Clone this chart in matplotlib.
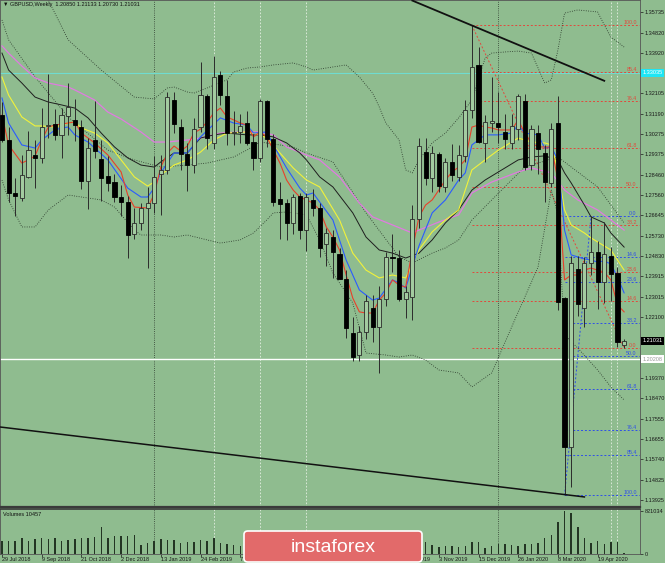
import numpy as np
import matplotlib
matplotlib.use('Agg')
import matplotlib.pyplot as plt
from matplotlib.patches import FancyBboxPatch

plt.rcParams['font.family'] = ['Liberation Sans', 'DejaVu Sans']

BG = '#8FBC8F'
W, H = 665, 563

# GBPUSD weekly candles, 29 Jul 2018 .. 17 May 2020
opens = [1.3114, 1.3002, 1.2765, 1.2744, 1.2838, 1.2935, 1.2920, 1.3065, 1.3073, 1.3024,
         1.3110, 1.3090, 1.3060, 1.2820, 1.3000, 1.2915, 1.2840, 1.2815, 1.2745, 1.2725,
         1.2580, 1.2630, 1.2700, 1.2718, 1.2848, 1.2870, 1.3180, 1.3060, 1.2940, 1.2890,
         1.3060, 1.3200, 1.2990, 1.3295, 1.3200, 1.3035, 1.3040, 1.3080, 1.2995, 1.2920,
         1.3175, 1.3005, 1.2740, 1.2720, 1.2630, 1.2750, 1.2600, 1.2735, 1.2700, 1.2535,
         1.2570, 1.2490, 1.2380, 1.2140, 1.2040, 1.2145, 1.2250, 1.2165, 1.2290, 1.2480,
         1.2475, 1.2290, 1.2300, 1.2650, 1.2950, 1.2830, 1.2940, 1.2790, 1.2905, 1.2837,
         1.2930, 1.3136, 1.3338, 1.2990, 1.3080, 1.3078, 1.3040, 1.2990, 1.3050, 1.3175,
         1.2888, 1.3035, 1.2944, 1.2810, 1.3078, 1.2295, 1.1630, 1.2427, 1.2250, 1.2450,
         1.2500, 1.2365, 1.2485, 1.2406, 1.20850]
highs = [1.3172, 1.3060, 1.2830, 1.2937, 1.3043, 1.3002, 1.3144, 1.3298, 1.3140, 1.3144,
         1.3257, 1.3184, 1.3090, 1.3010, 1.3175, 1.3002, 1.2930, 1.2850, 1.2800, 1.2750,
         1.2700, 1.2720, 1.2790, 1.2930, 1.2935, 1.3215, 1.3215, 1.3098, 1.2990, 1.3100,
         1.3350, 1.3210, 1.3380, 1.3310, 1.3270, 1.3130, 1.3120, 1.3130, 1.3030, 1.3185,
         1.3180, 1.3030, 1.2815, 1.2740, 1.2760, 1.2765, 1.2765, 1.2785, 1.2720, 1.2610,
         1.2600, 1.2520, 1.2420, 1.2210, 1.2170, 1.2310, 1.2310, 1.2350, 1.2500, 1.2580,
         1.2510, 1.2350, 1.2710, 1.3013, 1.3010, 1.2975, 1.2950, 1.2920, 1.2985, 1.2980,
         1.3180, 1.3515, 1.3420, 1.3115, 1.3285, 1.3215, 1.3120, 1.3120, 1.3210, 1.3210,
         1.3070, 1.3070, 1.2980, 1.3080, 1.3200, 1.2300, 1.2485, 1.2485, 1.2480, 1.2660,
         1.2550, 1.2637, 1.2525, 1.2435, 1.21133]
lows = [1.2995, 1.2723, 1.2662, 1.2730, 1.2830, 1.2787, 1.2898, 1.3010, 1.3000, 1.2922,
        1.3024, 1.2999, 1.2785, 1.2695, 1.2920, 1.2727, 1.2775, 1.2725, 1.2660, 1.2476,
        1.2560, 1.2600, 1.2430, 1.2676, 1.2668, 1.2850, 1.3035, 1.2866, 1.2772, 1.2855,
        1.3040, 1.2960, 1.2960, 1.3160, 1.2980, 1.2980, 1.2990, 1.2980, 1.2870, 1.2905,
        1.2970, 1.2705, 1.2560, 1.2555, 1.2580, 1.2560, 1.2505, 1.2660, 1.2480, 1.2440,
        1.2385, 1.2380, 1.2118, 1.2015, 1.2015, 1.2110, 1.2100, 1.1960, 1.2260, 1.2410,
        1.2280, 1.2205, 1.2195, 1.2610, 1.2800, 1.2770, 1.2770, 1.2770, 1.2820, 1.2820,
        1.2905, 1.3100, 1.2990, 1.2905, 1.3040, 1.2990, 1.2960, 1.2960, 1.3000, 1.2870,
        1.2870, 1.2850, 1.2725, 1.2790, 1.2240, 1.1412, 1.1450, 1.2215, 1.2165, 1.2400,
        1.2247, 1.2273, 1.2280, 1.2075, 1.20730]
closes = [1.3002, 1.2765, 1.2752, 1.2847, 1.2959, 1.2920, 1.3059, 1.3070, 1.3024, 1.3114,
          1.3150, 1.3068, 1.2820, 1.2965, 1.2955, 1.2833, 1.2810, 1.2745, 1.2725, 1.2578,
          1.2630, 1.2697, 1.2720, 1.2837, 1.2870, 1.3195, 1.3075, 1.2940, 1.2890, 1.3050,
          1.3203, 1.3010, 1.3285, 1.3205, 1.3035, 1.3040, 1.3065, 1.2990, 1.2920, 1.3175,
          1.3005, 1.2725, 1.2715, 1.2630, 1.2745, 1.2600, 1.2745, 1.2700, 1.2520, 1.2585,
          1.2500, 1.2380, 1.2160, 1.2030, 1.2144, 1.2280, 1.2165, 1.2290, 1.2480, 1.2475,
          1.2290, 1.2320, 1.2650, 1.2975, 1.2830, 1.2945, 1.2795, 1.2905, 1.2845, 1.2935,
          1.3136, 1.3330, 1.2995, 1.3084, 1.3085, 1.3060, 1.3005, 1.3065, 1.3198, 1.2883,
          1.3050, 1.2960, 1.2816, 1.3050, 1.2276, 1.1630, 1.2452, 1.2270, 1.2450, 1.2500,
          1.2365, 1.2490, 1.2403, 1.2100, 1.21031]
volumes = [255000, 255000, 255000, 305000, 255000, 286000, 300000, 286000, 300000, 255000,
           267000, 286000, 300000, 300000, 318000, 515000, 305000, 337000, 350000, 350000,
           369000, 172000, 204000, 255000, 286000, 261000, 261000, 204000, 229000, 223000,
           267000, 248000, 299000, 204000, 191000, 178000, 159000, 175000, 165000, 160000,
           180000, 205000, 190000, 175000, 165000, 180000, 185000, 170000, 205000, 220000,
           195000, 210000, 245000, 235000, 205000, 190000, 180000, 195000, 165000, 190000,
           205000, 225000, 265000, 250000, 235000, 172000, 140000, 153000, 153000, 140000,
           153000, 229000, 223000, 121000, 146000, 197000, 191000, 172000, 153000, 185000,
           197000, 204000, 299000, 356000, 611000, 821034, 789000, 522000, 299000, 210000,
           242000, 191000, 229000, 229000, 10457]

date_ticks = [0, 6, 12, 18, 24, 30, 36, 42, 48, 54, 60, 66, 72, 78, 84, 90]
date_labels = ['29 Jul 2018', '9 Sep 2018', '21 Oct 2018', '2 Dec 2018', '13 Jan 2019',
               '24 Feb 2019', '7 Apr 2019', '19 May 2019', '30 Jun 2019', '11 Aug 2019',
               '22 Sep 2019', '3 Nov 2019', '15 Dec 2019', '26 Jan 2020', '8 Mar 2020',
               '19 Apr 2020']
price_ticks = [1.35735, 1.34820, 1.33920, 1.33005, 1.32105, 1.31190, 1.30275, 1.29375,
               1.28460, 1.27560, 1.26645, 1.25730, 1.24830, 1.23915, 1.23015, 1.22100,
               1.21185, 1.20270, 1.19370, 1.18470, 1.17555, 1.16655, 1.15740, 1.14825,
               1.13925]
# these scale labels sit under the price boxes on the right
hidden_ticks = [1.33005, 1.21185, 1.20270]

# indicator lines: (week index, price)
red_ma = [(0, 1.3114), (1, 1.2980), (3, 1.2899), (4, 1.2913), (5, 1.2931), (6, 1.3002),
          (7, 1.3060), (8, 1.3069), (10, 1.3078), (11, 1.3083), (12, 1.3033), (14, 1.2989),
          (16, 1.2935), (18, 1.2859), (19, 1.2756), (20, 1.2702), (22, 1.2698), (23, 1.2760),
          (24, 1.2881), (25, 1.2944), (26, 1.2975), (27, 1.2953), (28, 1.2975), (29, 1.3033),
          (30, 1.3051), (31, 1.3083), (32, 1.3123), (33, 1.3145), (34, 1.3105), (35, 1.3092),
          (36, 1.3078), (37, 1.3069), (38, 1.3016), (39, 1.3038), (40, 1.3016), (41, 1.2957),
          (42, 1.2899), (43, 1.2823), (44, 1.2778), (45, 1.2747), (46, 1.2734), (47, 1.2720),
          (48, 1.2689), (49, 1.2613), (50, 1.2568), (51, 1.2510), (52, 1.2398), (53, 1.2295),
          (54, 1.2233), (55, 1.2228), (56, 1.2228), (57, 1.2286), (58, 1.2318), (59, 1.2376),
          (60, 1.2353), (61, 1.2344), (62, 1.2510), (63, 1.2658), (64, 1.2711), (65, 1.2734),
          (66, 1.2778), (67, 1.2823), (68, 1.2859), (69, 1.2881), (70, 1.2913), (71, 1.3060),
          (72, 1.3069), (73, 1.3060), (74, 1.3056), (75, 1.3047), (76, 1.3047), (77, 1.3047),
          (78, 1.3092), (79, 1.3033), (80, 1.2989), (81, 1.2971), (82, 1.2971), (83, 1.2971),
          (84, 1.2823), (85, 1.2376), (86, 1.2398), (87, 1.2398), (88, 1.2420), (89, 1.2429),
          (90, 1.2420), (91, 1.2411), (92, 1.2376), (93, 1.2264), (94, 1.2233)]
blue_ma = [(0, 1.3190), (1, 1.3078), (3, 1.2980), (5, 1.2966), (6, 1.3002), (8, 1.3047),
           (9, 1.3056), (10, 1.3060), (11, 1.3025), (13, 1.2993), (16, 1.2913), (19, 1.2787),
           (21, 1.2747), (22, 1.2747), (23, 1.2787), (24, 1.2855), (26, 1.2944), (28, 1.2944),
           (30, 1.3016), (33, 1.3101), (35, 1.3078), (37, 1.3069), (38, 1.3033), (40, 1.3038),
           (41, 1.2980), (43, 1.2877), (45, 1.2787), (46, 1.2756), (47, 1.2765), (50, 1.2644),
           (52, 1.2465), (54, 1.2331), (56, 1.2286), (57, 1.2295), (59, 1.2376), (60, 1.2362),
           (61, 1.2340), (63, 1.2528), (65, 1.2676), (67, 1.2734), (69, 1.2823), (70, 1.2855),
           (71, 1.2980), (73, 1.3025), (75, 1.3025), (77, 1.3033), (78, 1.3069), (79, 1.3033),
           (81, 1.3025), (82, 1.2966), (83, 1.2971), (84, 1.2913), (85, 1.2599), (86, 1.2488),
           (87, 1.2479), (88, 1.2470), (89, 1.2465), (90, 1.2456), (91, 1.2461), (92, 1.2447),
           (93, 1.2389), (94, 1.2318)]
yellow_ma = [(0, 1.3284), (1, 1.3203), (3, 1.3105), (5, 1.3065), (6, 1.3065), (8, 1.3060),
             (10, 1.3078), (11, 1.3083), (12, 1.3056), (14, 1.3033), (16, 1.2989), (18, 1.2913),
             (20, 1.2837), (22, 1.2796), (23, 1.2814), (24, 1.2846), (26, 1.2890), (28, 1.2913),
             (30, 1.2948), (32, 1.3002), (34, 1.3033), (37, 1.3038), (39, 1.3025), (40, 1.3011),
             (42, 1.2944), (44, 1.2877), (46, 1.2823), (48, 1.2792), (51, 1.2644), (53, 1.2496),
             (55, 1.2420), (57, 1.2385), (59, 1.2398), (61, 1.2385), (63, 1.2510), (65, 1.2591),
             (67, 1.2644), (69, 1.2689), (71, 1.2868), (73, 1.2913), (75, 1.2957), (77, 1.2993),
             (78, 1.3011), (80, 1.2993), (82, 1.2989), (83, 1.2980), (84, 1.2868), (85, 1.2689),
             (86, 1.2622), (88, 1.2586), (89, 1.2564), (91, 1.2528), (92, 1.2510), (94, 1.2420)]
black_ma = [(0, 1.3391), (1, 1.3315), (3, 1.3257), (5, 1.3194), (7, 1.3172), (9, 1.3159),
            (11, 1.3145), (13, 1.3101), (15, 1.3033), (17, 1.2971), (19, 1.2922), (21, 1.2890),
            (23, 1.2881), (24, 1.2904), (26, 1.2944), (28, 1.2944), (30, 1.3011), (32, 1.3025),
            (34, 1.3033), (37, 1.3025), (39, 1.3025), (41, 1.3016), (43, 1.2989), (45, 1.2944),
            (46, 1.2913), (48, 1.2837), (50, 1.2792), (53, 1.2676), (55, 1.2568), (57, 1.2510),
            (59, 1.2496), (61, 1.2474), (63, 1.2496), (65, 1.2555), (67, 1.2631), (69, 1.2689),
            (71, 1.2778), (73, 1.2823), (75, 1.2859), (78, 1.2913), (80, 1.2926), (82, 1.2931),
            (84, 1.2913), (85, 1.2855), (86, 1.2810), (88, 1.2711), (89, 1.2658), (91, 1.2631),
            (92, 1.2586), (94, 1.2523)]
magenta_ma = [(0, 1.3423), (1, 1.3391), (3, 1.3333), (5, 1.3280), (7, 1.3257), (10, 1.3239),
              (11, 1.3226), (14, 1.3181), (16, 1.3127), (18, 1.3096), (21, 1.3038), (23, 1.2993),
              (25, 1.2993), (28, 1.3002), (30, 1.3011), (33, 1.3033), (36, 1.3038), (39, 1.3038),
              (41, 1.3025), (43, 1.2971), (46, 1.2935), (48, 1.2913), (51, 1.2837), (54, 1.2720),
              (56, 1.2658), (59, 1.2622), (62, 1.2586), (63, 1.2599), (66, 1.2635), (69, 1.2667),
              (71, 1.2765), (74, 1.2814), (78, 1.2859), (80, 1.2877), (83, 1.2855), (85, 1.2778),
              (87, 1.2734), (90, 1.2689), (92, 1.2644), (94, 1.2599)]
band_upper = [(0, 1.3763), (3, 1.3709), (5, 1.3673), (7, 1.3629), (10, 1.3450), (15, 1.3315),
              (20, 1.3194), (23, 1.3186), (25, 1.3235), (26, 1.3239), (28, 1.3217), (29, 1.3212),
              (31, 1.3235), (34, 1.3271), (35, 1.3306), (37, 1.3324), (39, 1.3329), (41, 1.3338),
              (44, 1.3347), (46, 1.3329), (47, 1.3315), (52, 1.3338), (54, 1.3284), (56, 1.3212),
              (57, 1.3150), (58, 1.3078), (60, 1.3002), (61, 1.2868), (62, 1.2855), (63, 1.2913),
              (65, 1.2989), (67, 1.3033), (69, 1.3101), (71, 1.3181), (73, 1.3369), (74, 1.3391),
              (76, 1.3396), (78, 1.3400), (80, 1.3391), (81, 1.3324), (82, 1.3257), (83, 1.3271),
              (84, 1.3405), (85, 1.3570), (87, 1.3584), (90, 1.3575), (91, 1.3517), (92, 1.3463),
              (94, 1.3418)]
band_mid = [(0, 1.3539), (1, 1.3450), (5, 1.3284), (10, 1.3105), (16, 1.2957), (20, 1.2913),
            (24, 1.2881), (28, 1.2890), (31, 1.2899), (35, 1.2926), (37, 1.2957), (39, 1.2993),
            (44, 1.2971), (46, 1.2944), (50, 1.2904), (55, 1.2676), (60, 1.2479), (62, 1.2452),
            (65, 1.2496), (67, 1.2519), (69, 1.2555), (71, 1.2644), (74, 1.2734), (77, 1.2823),
            (79, 1.2881), (84, 1.2926), (90, 1.2792), (94, 1.2631)]
band_lower = [(0, 1.2823), (1, 1.2734), (3, 1.2613), (5, 1.2613), (7, 1.2689), (10, 1.2756),
              (12, 1.2747), (15, 1.2734), (17, 1.2702), (20, 1.2599), (21, 1.2577), (24, 1.2577),
              (26, 1.2568), (28, 1.2577), (31, 1.2555), (33, 1.2541), (36, 1.2555), (38, 1.2586),
              (40, 1.2644), (41, 1.2676), (43, 1.2680), (46, 1.2667), (48, 1.2555), (50, 1.2407),
              (53, 1.2273), (55, 1.2049), (58, 1.2040), (60, 1.2031), (62, 1.2040), (64, 1.2018),
              (66, 1.1973), (69, 1.1960), (71, 1.1897), (74, 1.1960), (77, 1.2165), (81, 1.2434),
              (83, 1.2778), (84, 1.2667), (85, 1.2130), (87, 1.2071), (90, 1.1973), (92, 1.1897),
              (94, 1.1839)]

fib_levels = [0.0, 14.6, 23.6, 38.2, 50.0, 61.8, 76.4, 85.4, 100.0]
upper_trend = [(62, 1.3626), (91, 1.3267)]
lower_trend = [(-0.3, 1.1718), (88, 1.1405)]
cyan_level = 1.3303
white_level = 1.20208

o = np.array(opens)
h = np.array(highs)
l = np.array(lows)
c = np.array(closes)
idx = np.arange(len(c))
up = c >= o

fig = plt.figure(figsize=(W / 100, H / 100), dpi=100, facecolor=BG)
ax = fig.add_axes([0, 56 / H, 640 / W, 507 / H], facecolor=BG)
axv = fig.add_axes([0, 9 / H, 640 / W, 45 / H], facecolor=BG)

xlim = (-0.3, 96.4)
ax.set_xlim(*xlim)
ax.set_ylim(1.1360, 1.36285)

# separators
for a in (ax, axv):
    for x in (23, 75):
        a.axvline(x, color='#2e3a2e', lw=0.6, ls=(0, (1, 1.6)), zorder=1)
    for x in (32, 39, 46, 92, 93):
        a.axvline(x, color='#e4efe2', lw=0.6, ls=(0, (2, 2)), zorder=1)

ax.axhline(cyan_level, color='#6FDCD0', lw=0.8, zorder=1)
ax.axhline(white_level, color='white', lw=1.0, zorder=1)

# fibo from the Dec 2019 high to the current low (red)
fh, fl = h[71], l[94]
for lv in fib_levels:
    p = fl + lv / 100 * (fh - fl)
    ax.hlines(p, 71, xlim[1], colors='#E2483C', lw=0.7, ls=(0, (2, 2)), zorder=2)
    ax.text(95.9, p, f'{lv:.1f}', color='#E2483C', fontsize=3.8, ha='right', va='bottom', zorder=6)
ax.plot([71, 94], [fh, fl], color='#E2483C', lw=0.7, ls=(0, (2, 2)), zorder=2)

# fibo of the March 2020 swing (blue)
bh, bl = h[89], l[85]
for lv in fib_levels:
    p = bh - lv / 100 * (bh - bl)
    ax.hlines(p, 85, xlim[1], colors='#2F4FE8', lw=0.7, ls=(0, (2, 2)), zorder=2)
    ax.text(95.9, p, f'{lv:.1f}', color='#2F4FE8', fontsize=3.8, ha='right', va='bottom', zorder=6)
ax.plot([85, 89], [bl, bh], color='#2F4FE8', lw=0.7, ls=(0, (2, 2)), zorder=2)

# bands and moving averages
for line in (band_upper, band_mid, band_lower):
    ax.plot(*zip(*line), color='#263226', lw=0.6, ls=(0, (1, 1.8)), zorder=2)
ax.plot(*zip(*magenta_ma), color='#E07BE0', lw=0.9, zorder=3)
ax.plot(*zip(*black_ma), color='#1e1e1e', lw=0.7, zorder=3)
ax.plot(*zip(*yellow_ma), color='#F2F23A', lw=0.8, zorder=3)
ax.plot(*zip(*blue_ma), color='#2A5BFF', lw=0.8, zorder=3)
ax.plot(*zip(*red_ma), color='#E8402A', lw=0.8, zorder=3)

# candles
ax.vlines(idx, l, h, color='#2b2b2b', lw=0.7, zorder=4)
body_low = np.minimum(o, c)
body_h = np.maximum(np.abs(c - o), 0.00025)
ax.bar(idx[up], body_h[up], bottom=body_low[up], width=0.62, facecolor='#A3CBA0',
       edgecolor='#2b2b2b', lw=0.6, zorder=5)
ax.bar(idx[~up], body_h[~up], bottom=body_low[~up], width=0.62, facecolor='black',
       edgecolor='black', lw=0.6, zorder=5)

# trend lines
ax.plot(*zip(*upper_trend), color='#111111', lw=1.3, zorder=6)
ax.plot(*zip(*lower_trend), color='#111111', lw=1.1, zorder=6)

ax.text(0.004, 0.997, '\u25bc GBPUSD,Weekly  1.20850 1.21133 1.20730 1.21031',
        transform=ax.transAxes, fontsize=4, va='top', ha='left', color='#111111')

# price axis
ax.set_xticks([])
ax.yaxis.tick_right()
ax.set_yticks(price_ticks)
ax.set_yticklabels(['' if p in hidden_ticks else f'{p:.5f}' for p in price_ticks])
ax.tick_params(axis='y', length=2, width=0.5, labelsize=4, pad=1.5, colors='#1a1a1a')

ytr = ax.get_yaxis_transform()
ax.text(1.004, cyan_level, '1.33035', transform=ytr, fontsize=4, color='white', va='center',
        ha='left', clip_on=False, zorder=10,
        bbox=dict(boxstyle='square,pad=0.3', fc='#1EE6F5', ec='none'))
ax.text(1.004, c[-1], f'{c[-1]:.5f}', transform=ytr, fontsize=4, color='white', va='center',
        ha='left', clip_on=False, zorder=10,
        bbox=dict(boxstyle='square,pad=0.3', fc='black', ec='none'))
ax.text(1.004, white_level, f'{white_level:.5f}', transform=ytr, fontsize=4, color='#9a9a9a',
        va='center', ha='left', clip_on=False, zorder=10,
        bbox=dict(boxstyle='square,pad=0.3', fc='white', ec='none'))

for name, sp in ax.spines.items():
    sp.set_color('#555555')
    sp.set_linewidth(0.6)
ax.spines['bottom'].set_linewidth(1.6)
ax.spines['bottom'].set_color('#3a3a3a')

# volumes
axv.bar(idx, volumes, width=0.22, color='#243524', zorder=3)
axv.set_xlim(*xlim)
axv.set_ylim(0, 859000)
axv.yaxis.tick_right()
axv.set_yticks([0, 821034])
axv.set_yticklabels(['0', '821034'])
axv.tick_params(axis='y', length=2, width=0.5, labelsize=4, pad=1.5, colors='#1a1a1a')
axv.set_xticks(date_ticks)
axv.set_xticklabels(date_labels)
axv.tick_params(axis='x', length=2, width=0.5, labelsize=4, pad=0.5, colors='#1a1a1a')
for lbl in axv.get_xticklabels():
    lbl.set_ha('left')
axv.text(0.005, 0.93, 'Volumes 10457', transform=axv.transAxes, fontsize=4, va='top',
         ha='left', color='#111111')
for name, sp in axv.spines.items():
    sp.set_color('#555555')
    sp.set_linewidth(0.6)
axv.spines['top'].set_linewidth(1.2)
axv.spines['top'].set_color('#3a3a3a')

# logo
logo = FancyBboxPatch((244 / W, 1 / H), 178 / W, 31 / H,
                      boxstyle='round,pad=0,rounding_size=0.006',
                      transform=fig.transFigure, fc='#E26A6A', ec='white', lw=1.2, zorder=20)
fig.add_artist(logo)
fig.text(333 / W, (563 - 547) / H, 'instaforex', color='white', fontsize=14,
         ha='center', va='center', zorder=21,
         family=['Liberation Sans Narrow', 'Liberation Sans', 'DejaVu Sans'])

fig.savefig('out.png', dpi=100, facecolor=BG)
